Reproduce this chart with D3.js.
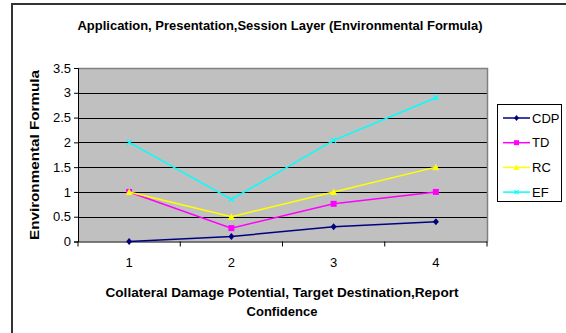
<!DOCTYPE html>
<html><head><meta charset="utf-8">
<script src="https://cdn.jsdelivr.net/npm/d3@7"></script>
<style>body{margin:0;background:#fff;}svg{display:block;font-family:"Liberation Sans",Arial,sans-serif;}</style>
</head><body>
<svg id="c" width="566" height="333"></svg>
<script>
const categories = ["1","2","3","4"];
const seriesNames = ["CDP","TD","RC","EF"];
const cdp = [0, 0.1, 0.3, 0.4];
const td = [1.0, 0.27, 0.76, 1.0];
const rc = [1.0, 0.5, 1.0, 1.5];
const ef = [2.0, 0.85, 2.04, 2.9];
const yTicks = [0,0.5,1,1.5,2,2.5,3,3.5];
const colors = ["#000080","#FF00FF","#FFFF00","#00FFFF"];
const markers = ["diamond","square","triangle","x"];
const title = "Application, Presentation,Session Layer (Environmental Formula)";
const yTitle = "Environmental Formula";
const xTitle = ["Collateral Damage Potential, Target Destination,Report","Confidence"];

const data = [cdp, td, rc, ef];
const svg = d3.select("#c");
svg.append("rect").attr("x",12).attr("y",4).attr("width",600).attr("height",400)
  .attr("fill","none").attr("stroke","#333").attr("stroke-width",2);

const L=78,R=487,T=68,B=241.5;
const x = d3.scaleBand().domain(categories).range([L,R]);
const y = d3.scaleLinear().domain([0,3.5]).range([B,T]);

svg.append("rect").attr("x",L).attr("y",T).attr("width",R-L).attr("height",B-T).attr("fill","#C0C0C0");
svg.append("g").selectAll("line").data(yTicks.filter(d=>d>0&&d<3.5)).join("line")
  .attr("x1",L).attr("x2",R).attr("y1",d=>Math.round(y(d))+0.5).attr("y2",d=>Math.round(y(d))+0.5)
  .attr("stroke","#000").attr("stroke-width",1);
svg.append("path").attr("d",`M${L},${T+0.5}H${R+0.5}V${B}`).attr("fill","none").attr("stroke","#808080").attr("stroke-width",1.5);

const ya = svg.append("g").attr("transform",`translate(${L},0)`)
  .call(d3.axisLeft(y).tickValues(yTicks).tickFormat(d=>String(d)).tickSize(4).tickPadding(3));
ya.selectAll("path,line").attr("stroke","#000");
ya.selectAll("text").attr("font-size",13).attr("fill","#000").attr("font-family","Liberation Sans, Arial");
const xa = svg.append("g").attr("transform",`translate(0,${B})`)
  .call(d3.axisBottom(x).tickSize(0).tickPadding(16));
xa.select("path").attr("stroke","#000");
xa.selectAll("text").attr("font-size",13).attr("fill","#000").attr("font-family","Liberation Sans, Arial");
svg.append("g").selectAll("line").data(d3.range(categories.length+1)).join("line")
  .attr("x1",i=>L+i*x.step()).attr("x2",i=>L+i*x.step()).attr("y1",B).attr("y2",B+5).attr("stroke","#000");

function marker(g,type,color,s){
  const h=s/2;
  if(type==="diamond") g.append("path").attr("d",`M0,${-h-0.5}L${h},0L0,${h+0.5}L${-h},0Z`).attr("fill",color);
  else if(type==="square") g.append("rect").attr("x",-h).attr("y",-h).attr("width",s).attr("height",s).attr("fill",color);
  else if(type==="triangle") g.append("path").attr("d",`M0,${-h-0.5}L${h+0.5},${h}L${-h-0.5},${h}Z`).attr("fill",color);
  else g.append("path").attr("d",`M${-h+0.5},${-h+0.5}L${h-0.5},${h-0.5}M${-h+0.5},${h-0.5}L${h-0.5},${-h+0.5}`).attr("stroke",color).attr("stroke-width",1.2);
}

const line = d3.line().x((d,i)=>x(categories[i])+x.bandwidth()/2).y(d=>y(d));
data.forEach((vals,si)=>{
  svg.append("path").datum(vals).attr("d",line).attr("fill","none").attr("stroke",colors[si]).attr("stroke-width",1.5);
  vals.forEach((v,i)=>{
    const g = svg.append("g").attr("transform",`translate(${x(categories[i])+x.bandwidth()/2},${y(v)})`);
    marker(g,markers[si],colors[si],6);
  });
});

svg.append("text").attr("x",280).attr("y",30).attr("text-anchor","middle").attr("font-size",13).attr("font-weight","bold")
  .attr("textLength",405).attr("lengthAdjust","spacingAndGlyphs").text(title);
svg.append("text").attr("transform","translate(39,155) rotate(-90)").attr("text-anchor","middle").attr("font-size",13.5).attr("font-weight","bold")
  .attr("textLength",170).attr("lengthAdjust","spacingAndGlyphs").text(yTitle);
svg.append("text").attr("x",282).attr("y",297).attr("text-anchor","middle").attr("font-size",13).attr("font-weight","bold")
  .attr("textLength",353).attr("lengthAdjust","spacingAndGlyphs").text(xTitle[0]);
svg.append("text").attr("x",282).attr("y",316).attr("text-anchor","middle").attr("font-size",13).attr("font-weight","bold").text(xTitle[1]);

svg.append("rect").attr("x",497.5).attr("y",104.5).attr("width",64).attr("height",97).attr("fill","#fff").attr("stroke","#000");
seriesNames.forEach((n,i)=>{
  const yy = 118+i*24.7;
  svg.append("line").attr("x1",503).attr("x2",530).attr("y1",yy).attr("y2",yy).attr("stroke",colors[i]).attr("stroke-width",1.5);
  const g = svg.append("g").attr("transform",`translate(516.5,${yy})`);
  marker(g,markers[i],colors[i],5);
  svg.append("text").attr("x",532).attr("y",yy+4.5).attr("font-size",13).text(n);
});
</script>
</body></html>
